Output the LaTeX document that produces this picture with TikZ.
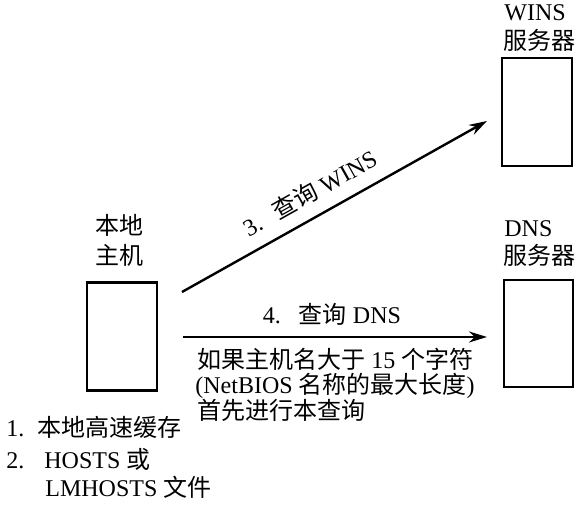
\documentclass[tikz,border=0pt]{standalone}
\usepackage{fontspec}
\setmainfont{Liberation Serif}
\newfontfamily\cjk{Noto Sans CJK SC}
\usetikzlibrary{arrows.meta}
\newcommand{\zh}[1]{{\cjk #1}}
\begin{document}
\begin{tikzpicture}[x=0.5pt,y=-0.5pt,
  box/.style={draw, line width=1.3pt, minimum width=35pt, minimum height=54pt, inner sep=0pt},
  lbl/.style={inner sep=0pt, font=\fontsize{12}{15}\selectfont, text height=9pt, text depth=2pt},
  arr/.style={line width=1.2pt, -{Stealth[length=9pt,width=5.5pt]}}]
\useasboundingbox[fill=white] (0,0) rectangle (580,506);
% boxes
\node[box] (host) at (122,336.5) {};
\node[box] (wins) at (537,112) {};
\node[box, minimum width=34.5pt, minimum height=53.5pt] (dns) at (538.5,333.5) {};
% box labels
\node[lbl] (hostl1) at (120,228) {\zh{本地}};
\node[lbl] (hostl2) at (120,258) {\zh{主机}};
\node[lbl, anchor=west] (winsl1) at (504,14) {WINS};
\node[lbl, anchor=west] (winsl2) at (503,43) {\zh{服务器}};
\node[lbl, anchor=west] (dnsl1) at (504,230) {DNS};
\node[lbl, anchor=west] (dnsl2) at (503,258) {\zh{服务器}};
% arrows
\coordinate (a1) at (182,292);
\coordinate (a2) at (487,121);
\draw[arr] (a1) -- node[lbl, pos=0.457, sloped, above=5pt] (q3) {3.\hspace{8pt}\zh{查询} WINS} (a2);
\coordinate (b1) at (183,337);
\coordinate (b2) at (487,337);
\draw[arr] (b1) -- node[lbl, pos=0.49, above=4pt] (q4) {4.\hspace{9pt}\zh{查询} DNS} (b2);
% note under DNS arrow
\node[lbl, anchor=west] (n1) at (197,362) {\zh{如果主机名大于} 15 \zh{个字符}};
\node[lbl, anchor=west] (n2) at (195,387) {(NetBIOS \zh{名称的最大长度})};
\node[lbl, anchor=west] (n3) at (197,413) {\zh{首先进行本查询}};
% list
\node[lbl, anchor=west] (l1) at (6,430) {1.\hspace{6.5pt}\zh{本地高速缓存}};
\node[lbl, anchor=west] (l2) at (6,462) {2.\hspace{10pt}HOSTS \zh{或}};
\node[lbl, anchor=west] (l3) at (45,490) {LMHOSTS \zh{文件}};
\end{tikzpicture}
\end{document}
